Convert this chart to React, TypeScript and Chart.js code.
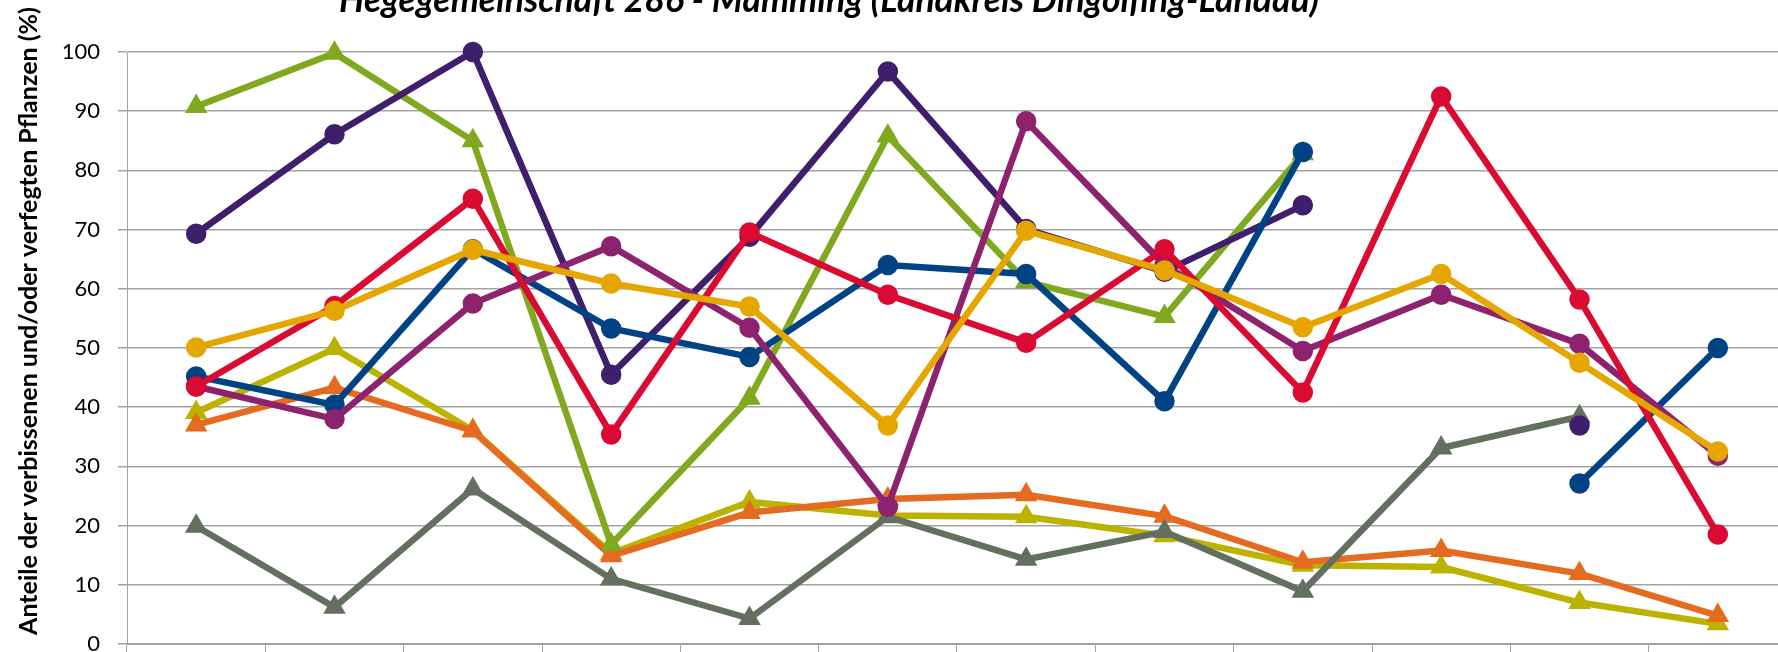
import React, { useEffect, useRef } from "react";
import { Chart, registerables } from "chart.js";

Chart.register(...registerables);

const TITLE = "Hegegemeinschaft 286 - Mamming (Landkreis Dingolfing-Landau)";
const Y_TITLE = "Anteile der verbissenen und/oder verfegten Pflanzen (%)";

const categories = ["1991", "1994", "1997", "2000", "2003", "2006", "2009", "2012", "2015", "2018", "2021", "2024"];

const greenTri = [90.8, 99.8, 85, 16.8, 41.5, 85.8, 61.2, 55.3, 82.8, null, null, null];
const darkPurple = [69.3, 86.1, 100, 45.5, 68.8, 96.7, 70.1, 62.9, 74.1, null, 36.9, null];
const red = [43.5, 57.1, 75.2, 35.4, 69.5, 59, 50.9, 66.7, 42.5, 92.5, 58.2, 18.5];
const blue = [45.2, 40.4, 66.7, 53.3, 48.5, 64, 62.5, 41, 83.1, null, 27.1, 50];
const magenta = [43.5, 38, 57.5, 67.2, 53.4, 23.2, 88.3, 64, 49.5, 59, 50.7, 31.8];
const gold = [50.1, 56.3, 66.6, 60.9, 57, 36.9, 69.8, 63.1, 53.5, 62.5, 47.5, 32.5];
const oliveTri = [39.1, 49.9, 36.1, 15.3, 24, 21.7, 21.5, 18.3, 13.3, 13, 7, 3.4];
const orangeTri = [37, 43.3, 36, 14.9, 22.2, 24.5, 25.2, 21.6, 13.8, 15.8, 11.9, 4.8];
const grayTri = [19.9, 6.2, 26.2, 11, 4.3, 21.5, 14.3, 19, 8.9, 33.1, 38.4, null];

const yTicks = [0, 10, 20, 30, 40, 50, 60, 70, 80, 90, 100];

const FONT = "Lato, 'Open Sans', sans-serif";
const GRID = "#A3A3A3";

function series(label: string, data: (number | null)[], color: string, tri: boolean) {
  return {
    label,
    data,
    borderColor: color,
    backgroundColor: color,
    pointBackgroundColor: color,
    pointBorderColor: color,
    borderWidth: 6.5,
    pointStyle: tri ? "triangle" : "circle",
    pointRadius: tri ? 11.5 : 9.5,
    pointBorderWidth: 1.5,
    tension: 0,
    spanGaps: false,
    clip: false as const,
  };
}

const textPlugin = {
  id: "texts",
  afterDraw(chart: any) {
    const ctx = chart.ctx as CanvasRenderingContext2D;
    ctx.save();
    ctx.fillStyle = "#000";
    ctx.font = `italic bold 35.5px ${FONT}`;
    ctx.textAlign = "center";
    ctx.textBaseline = "alphabetic";
    ctx.fillText(TITLE, 829, 42);
    ctx.translate(37, 351);
    ctx.rotate(-Math.PI / 2);
    ctx.font = `bold 25px ${FONT}`;
    ctx.fillText(Y_TITLE, 0, 0);
    ctx.restore();
  },
};

export default function App() {
  const ref = useRef<HTMLCanvasElement | null>(null);
  useEffect(() => {
    if (!ref.current) return;
    const chart = new Chart(ref.current, {
      type: "line",
      data: {
        labels: categories,
        datasets: [
          series("Series 6", gold, "#E5A600", false),
          series("Series 3", red, "#DA0A32", false),
          series("Series 5", magenta, "#8D226E", false),
          series("Series 4", blue, "#004385", false),
          series("Series 2", darkPurple, "#3F1F6B", false),
          series("Series 1", greenTri, "#80A91F", true),
          series("Series 9", grayTri, "#64705F", true),
          series("Series 8", orangeTri, "#E46B1F", true),
          series("Series 7", oliveTri, "#BCB300", true),
        ] as any,
      },
      options: {
        animation: false,
        responsive: false,
        devicePixelRatio: 1,
        layout: { padding: { top: 82, right: 10, left: 0, bottom: 0 } },
        plugins: { legend: { display: false }, tooltip: { enabled: false }, title: { display: false } },
        scales: {
          x: {
            type: "category",
            offset: true,
            grid: {
              display: true,
              offset: true,
              drawOnChartArea: false,
              drawTicks: true,
              tickLength: 10,
              color: GRID,
              lineWidth: 1,
            },
            border: { display: true, color: GRID, width: 2 },
            ticks: { font: { family: FONT, size: 22 }, color: "#000", padding: 6 },
            afterFit: (s: any) => { s.height = 46; },
          },
          y: {
            min: 0,
            max: 100,
            afterBuildTicks: (s: any) => { s.ticks = yTicks.map((v) => ({ value: v })); },
            grid: { color: GRID, lineWidth: 1.5, tickLength: 9, drawTicks: true },
            border: { display: true, color: GRID, width: 1 },
            ticks: { font: { family: FONT, size: 22 }, color: "#000", padding: 18 },
            afterFit: (s: any) => { s.width = 127; },
          },
        },
      },
      plugins: [textPlugin],
    });
    return () => chart.destroy();
  }, []);
  return (
    <div style={{ position: "fixed", left: 0, top: 0, width: 1778, height: 652, overflow: "hidden", background: "#fff" }}>
      <canvas ref={ref} width={1800} height={720} style={{ position: "absolute", left: 0, top: -30, width: 1800, height: 720 }} />
    </div>
  );
}
